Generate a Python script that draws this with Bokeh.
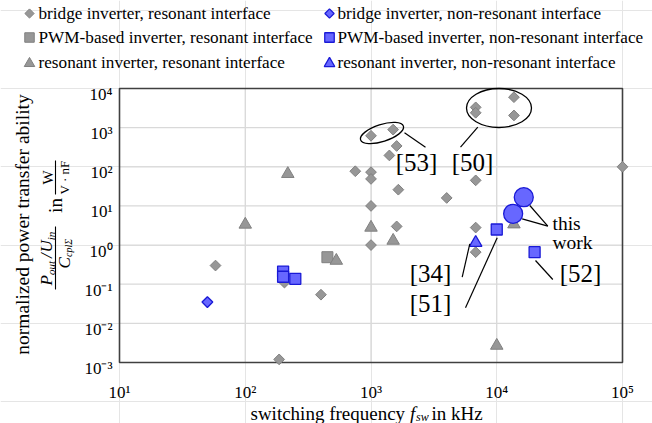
import math
from bokeh.plotting import figure
from bokeh.models import Range1d
from bokeh.embed import file_html
from bokeh.resources import INLINE
from bokeh.core.properties import value

# ---------------- data (switching frequency in kHz, normalized power transfer ability) ----------------
bridge_res_f = [58, 186, 205, 400, 750, 1000, 1000, 1000, 1000, 1000, 1400, 1500, 1600, 1600,
                1650, 4000, 6800, 6800, 6800, 6800, 6800, 13700, 13700, 100000]
bridge_res_p = [0.30, 0.0012, 0.11, 0.054, 77, 620, 73, 49, 10, 1.0, 195, 890, 340, 3.0,
                26, 16, 3300, 2400, 45, 2.8, 0.66, 6000, 2050, 100]
pwm_res_f = [450]
pwm_res_p = [0.49]
reso_res_f = [100, 218, 530, 1000, 1500, 10000, 13700]
reso_res_p = [3.35, 66, 0.40, 2.8, 1.3, 0.0027, 3.4]
bridge_non_f = [50]
bridge_non_p = [0.035]
pwm_non_f = [200, 200, 250, 10000, 20000]
pwm_non_p = [0.21, 0.155, 0.137, 2.5, 0.66]
reso_non_f = [6800]
reso_non_p = [1.15]
this_work_f = [13500, 16400]
this_work_p = [6.3, 16.7]

x_ticks = [1e1, 1e2, 1e3, 1e4, 1e5]
y_ticks = [1e-3, 1e-2, 1e-1, 1e0, 1e1, 1e2, 1e3, 1e4]

legend_labels = ["bridge inverter, resonant interface",
                 "PWM-based inverter, resonant interface",
                 "resonant inverter, resonant interface",
                 "bridge inverter, non-resonant interface",
                 "PWM-based inverter, non-resonant interface",
                 "resonant inverter, non-resonant interface"]

ref_labels = ["[53]", "[50]", "[34]", "[51]", "[52]"]

# ---------------- style ----------------
FONT = "Liberation Serif"
GRAY_F, GRAY_L = "#979797", "#808080"
BLUE_F, BLUE_L = "#6767ff", "#1a1ad6"
GRID_C = "#d9d9d9"
FRAME_C = "#404040"

# ---------------- layout geometry (page pixels of the plotting rectangle) ----------------
W, H = 652, 423
FL, FT, FW, FH = 119, 88, 503, 274
LX0, LX1 = math.log10(x_ticks[0]), math.log10(x_ticks[-1])
LY0, LY1 = math.log10(y_ticks[0]), math.log10(y_ticks[-1])


def fx(px):
    return 10 ** (LX0 + (px - FL) / FW * (LX1 - LX0))


def fy(py):
    return 10 ** (LY1 - (py - FT) / FH * (LY1 - LY0))


SUP = str.maketrans("0123456789-", "\u2070\u00b9\u00b2\u00b3\u2074\u2075\u2076\u2077\u2078\u2079\u207b")


def pow_label(v):
    return "10" + str(int(round(math.log10(v)))).translate(SUP)


p = figure(width=W, height=H, x_axis_type="log", y_axis_type="log",
           x_axis_location=None, y_axis_location=None,
           x_range=Range1d(fx(0), fx(W)), y_range=Range1d(fy(H), fy(0)),
           toolbar_location=None, output_backend="svg", min_border=0,
           outline_line_color=None)

xmin, xmax = x_ticks[0], x_ticks[-1]
ymin, ymax = y_ticks[0], y_ticks[-1]

# grid
p.segment(x0=x_ticks[1:-1], y0=[ymin] * 3, x1=x_ticks[1:-1], y1=[ymax] * 3,
          line_color=GRID_C, line_width=1.3)
p.segment(x0=[xmin] * 6, y0=y_ticks[1:-1], x1=[xmax] * 6, y1=y_ticks[1:-1],
          line_color=GRID_C, line_width=1.3)
# plot-area border
p.quad(left=[xmin], right=[xmax], bottom=[ymin], top=[ymax], fill_color=None,
       line_color=FRAME_C, line_width=1.6)

# tick labels
p.text(x=x_ticks, y=[fy(392)] * len(x_ticks), text=[pow_label(v) for v in x_ticks],
       text_font=value(FONT), text_font_size="17px", text_align="center",
       text_baseline="alphabetic", text_color="#000000")
p.text(x=[fx(112)] * len(y_ticks), y=y_ticks, text=[pow_label(v) for v in y_ticks],
       text_font=value(FONT), text_font_size="17px", text_align="right",
       text_baseline="alphabetic", y_offset=6, text_color="#000000")

# data markers
p.scatter(bridge_res_f, bridge_res_p, marker="square", angle=math.pi / 4, size=7.6,
          fill_color=GRAY_F, line_color=GRAY_L)
p.scatter(pwm_res_f, pwm_res_p, marker="square", size=11, fill_color=GRAY_F, line_color=GRAY_L)
p.scatter(reso_res_f, reso_res_p, marker="triangle", size=12.5, fill_color=GRAY_F, line_color=GRAY_L)
p.scatter(bridge_non_f, bridge_non_p, marker="square", angle=math.pi / 4, size=7.6,
          fill_color=BLUE_F, line_color=BLUE_L, line_width=1.3)
p.scatter(pwm_non_f, pwm_non_p, marker="square", size=11, fill_color=BLUE_F, line_color=BLUE_L,
          line_width=1.3)
p.scatter(reso_non_f, reso_non_p, marker="triangle", size=12.5, fill_color=BLUE_F, line_color=BLUE_L,
          line_width=1.3)
p.scatter(this_work_f, this_work_p, marker="circle", size=19, fill_color=BLUE_F, line_color=BLUE_L,
          line_width=1.3)

# reference annotations (positions in page pixels, mapped through the scales)
p.ellipse(x=[fx(381.5)], y=[fy(132.5)], width=45, height=17, angle=0.31,
          width_units="screen", height_units="screen",
          fill_color=None, line_color="black", line_width=1.3)
p.ellipse(x=[fx(498.5)], y=[fy(107.5)], width=65, height=39, angle=0,
          width_units="screen", height_units="screen",
          fill_color=None, line_color="black", line_width=1.3)

seg_px = [(404, 132.3, 425, 146.7),
          (477.3, 126.7, 460, 146.7),
          (461.7, 276.7, 469.3, 243.3),
          (465, 307.3, 496.7, 237.3),
          (552.3, 279, 535, 260),
          (547.3, 225.7, 529.3, 205),
          (547.3, 225.7, 521.7, 218.3)]
p.segment(x0=[fx(s[0]) for s in seg_px], y0=[fy(s[1]) for s in seg_px],
          x1=[fx(s[2]) for s in seg_px], y1=[fy(s[3]) for s in seg_px],
          line_color="black", line_width=1.2)

ref_px = [(416, 162), (472, 162), (430, 273), (430, 303), (580, 273)]
p.text(x=[fx(a) for a, b in ref_px], y=[fy(b) for a, b in ref_px], text=ref_labels,
       text_font=value(FONT), text_font_size="25px", text_align="center",
       text_baseline="middle", text_color="#000000")
p.text(x=[fx(552), fx(552)], y=[fy(222.5), fy(241.7)], text=["this", "work"],
       text_font=value(FONT), text_font_size="19.5px", text_align="left",
       text_baseline="alphabetic", text_color="#000000")

# legend (markers + labels)
leg_rows = [13, 37, 62]
leg_mx = [29, 329]
leg_tx = [38, 337]
p.scatter([fx(leg_mx[0])], [fy(leg_rows[0])], marker="square", angle=math.pi / 4, size=6.5,
          fill_color=GRAY_F, line_color=GRAY_L)
p.scatter([fx(leg_mx[0])], [fy(leg_rows[1])], marker="square", size=9.5,
          fill_color=GRAY_F, line_color=GRAY_L)
p.scatter([fx(leg_mx[0])], [fy(leg_rows[2] + 1)], marker="triangle", size=10.5,
          fill_color=GRAY_F, line_color=GRAY_L)
p.scatter([fx(leg_mx[1])], [fy(leg_rows[0])], marker="square", angle=math.pi / 4, size=6.5,
          fill_color=BLUE_F, line_color=BLUE_L, line_width=1.3)
p.scatter([fx(leg_mx[1])], [fy(leg_rows[1])], marker="square", size=9.5,
          fill_color=BLUE_F, line_color=BLUE_L, line_width=1.3)
p.scatter([fx(leg_mx[1])], [fy(leg_rows[2] + 1)], marker="triangle", size=10.5,
          fill_color=BLUE_F, line_color=BLUE_L, line_width=1.3)
p.text(x=[fx(leg_tx[0])] * 3 + [fx(leg_tx[1])] * 3,
       y=[fy(r) for r in leg_rows] * 2, text=legend_labels,
       text_font=value(FONT), text_font_size="17.2px", text_align="left",
       text_baseline="middle", text_color="#000000")


def txt(px, py, text, size, italic=False, angle=math.pi / 2, align="left", baseline="middle"):
    p.text(x=[fx(px)], y=[fy(py)], text=[text], text_font=value(FONT),
           text_font_size=f"{size}px",
           text_font_style="italic" if italic else "normal",
           angle=angle, text_align=align, text_baseline=baseline, text_color="#000000")


def rule(px0, py0, px1, py1):
    p.segment(x0=[fx(px0)], y0=[fy(py0)], x1=[fx(px1)], y1=[fy(py1)],
              line_color="black", line_width=1.1)


# y-axis title
txt(22, 224, "normalized power transfer ability", 19.5, align="center")
txt(46, 285, "P", 17, italic=True)
txt(50, 274.6, "out", 11, italic=True)
txt(46, 257.5, "/", 17, italic=True)
txt(46, 252, "U", 17, italic=True)
txt(50, 239.7, "in", 11, italic=True)
rule(55, 226, 55, 289)
txt(64, 268, "C", 17, italic=True)
txt(67.5, 256.5, "cpl\u03a3", 10, italic=True)
txt(55, 205, "in", 19, align="center")
txt(47, 177, "W", 15, align="center")
rule(55, 160, 55, 194)
txt(64, 177, "V \u00b7 nF", 13, align="center")

# x-axis title
txt(250, 413, "switching frequency ", 19, angle=0, baseline="alphabetic")
txt(409.5, 413, "f", 19, italic=True, angle=0, baseline="alphabetic")
txt(415.5, 416.5, "sw", 12, italic=True, angle=0, baseline="alphabetic")
txt(431, 413, " in kHz", 19, angle=0, baseline="alphabetic")

open("out.html", "w").write(file_html(p, INLINE))
